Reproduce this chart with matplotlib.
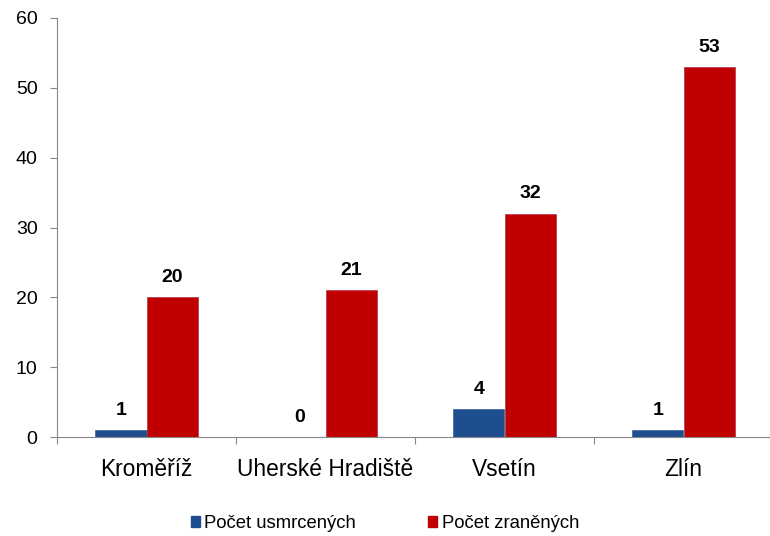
import numpy as np
import matplotlib
matplotlib.use('Agg')
import matplotlib.pyplot as plt
from matplotlib.patches import Patch

districts = ['Kroměříž', 'Uherské Hradiště', 'Vsetín', 'Zlín']
killed = [1, 0, 4, 1]
injured = [20, 21, 32, 53]
series_names = ['Počet usmrcených', 'Počet zraněných']

plt.rcParams['font.family'] = ['Liberation Sans', 'DejaVu Sans']

fig = plt.figure(figsize=(7.7, 5.36), dpi=100)
ax = fig.add_axes([57 / 770, 99 / 536, 716 / 770, 419 / 536])

blue = '#1F4E8F'
red = '#C00000'
w = 0.285
x = np.arange(len(districts))
b1 = ax.bar(x - w / 2, killed, w, color=blue, edgecolor='#3A62A0', linewidth=0.5)
b2 = ax.bar(x + w / 2, injured, w, color=red, edgecolor='#B03050', linewidth=0.5)

# value labels above bars
for bars, vals in [(b1, killed), (b2, injured)]:
    for rect, v in zip(bars, vals):
        ax.text(rect.get_x() + rect.get_width() / 2, v + 1.6, str(v),
                ha='center', va='bottom', fontsize=14, fontweight='bold')

ax.set_xlim(-0.5, len(districts) - 0.5)
ax.set_ylim(0, 60)
ax.set_yticks(range(0, 61, 10))
ax.set_xticks(np.arange(len(districts) + 1) - 0.5)
ax.set_xticklabels([])
ax.set_xticks(x, minor=True)
ax.set_xticklabels(districts, minor=True, fontsize=16.4)
ax.tick_params(axis='x', which='minor', length=0, pad=15)
ax.tick_params(axis='x', which='major', length=5, color='#888888', direction='out')
ax.tick_params(axis='y', length=5, color='#888888', labelsize=14, pad=9)

for s in ['top', 'right']:
    ax.spines[s].set_visible(False)
for s in ['left', 'bottom']:
    ax.spines[s].set_color('#888888')

handles = [Patch(color=blue), Patch(color=red)]
fig.legend(handles, series_names, loc='center', bbox_to_anchor=(0.5, 0.023),
           ncol=2, frameon=False, fontsize=13.3, handlelength=0.5, handleheight=0.5,
           handletextpad=0.25, columnspacing=3.9)

fig.savefig('out.png', dpi=100)
